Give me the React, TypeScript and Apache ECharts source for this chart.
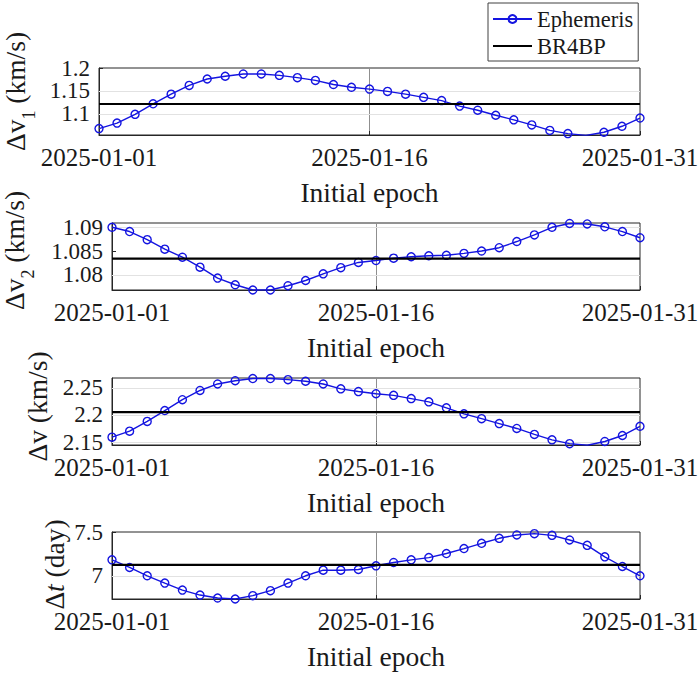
import React, { useEffect, useRef } from 'react';
import * as echarts from 'echarts';

// Initial epochs (daily, 2025-01-01 .. 2025-01-31)
const dates: string[] = Array.from({ length: 31 }, (_, i) => `2025-01-${String(i + 1).padStart(2, '0')}`);

// Ephemeris values
const dv1 = [1.068, 1.080, 1.099, 1.122, 1.143, 1.162, 1.176, 1.182, 1.187, 1.187, 1.184, 1.179, 1.173, 1.164, 1.158, 1.154,
  1.149, 1.143, 1.136, 1.129, 1.117, 1.108, 1.097, 1.087, 1.076, 1.064, 1.057, 1.053, 1.060, 1.073, 1.091];
const dv2 = [1.0900, 1.0891, 1.0874, 1.0854, 1.0837, 1.0816, 1.0793, 1.0779, 1.0768, 1.0768, 1.0777, 1.0788, 1.0802, 1.0815,
  1.0826, 1.0830, 1.0835, 1.0838, 1.0840, 1.0841, 1.0845, 1.0850, 1.0857, 1.0870, 1.0884, 1.0900, 1.0908, 1.0907, 1.0901,
  1.0891, 1.0878];
const dvTotal = [2.159, 2.170, 2.188, 2.208, 2.228, 2.245, 2.257, 2.263, 2.267, 2.267, 2.265, 2.262, 2.257, 2.248, 2.243,
  2.239, 2.236, 2.230, 2.224, 2.213, 2.202, 2.193, 2.184, 2.175, 2.164, 2.154, 2.147, 2.144, 2.151, 2.162, 2.179];
const dt = [7.182, 7.095, 7.0, 6.917, 6.837, 6.780, 6.746, 6.735, 6.773, 6.830, 6.917, 7.0, 7.064, 7.064, 7.072, 7.114,
  7.152, 7.182, 7.208, 7.254, 7.311, 7.371, 7.428, 7.466, 7.481, 7.462, 7.409, 7.348, 7.216, 7.106, 7.0];

// BR4BP constant values
const br4bp = [1.1215, 1.0834, 2.205, 7.125];

// Axis ranges and tick labels
const yMin = [1.054, 1.0768, 2.1445, 6.735];
const yMax = [1.2, 1.0909, 2.268, 7.5];
const yTicks1 = ['1.1', '1.15', '1.2'];
const yTicks2 = ['1.08', '1.085', '1.09'];
const yTicks3 = ['2.15', '2.2', '2.25'];
const yTicks4 = ['7', '7.5'];
const xTickIndices = [0, 15, 30];

const FONT = 'Liberation Serif, Times New Roman, serif';
const BLUE = '#1414e0';
const TXT = '#1a1a1a';

export default function App() {
  const ref = useRef<HTMLDivElement>(null);

  useEffect(() => {
    if (!ref.current) return;
    const chart = echarts.init(ref.current, null, { renderer: 'svg' });

    const panels = [
      { data: dv1, ticks: yTicks1, name: '{n|Δv}{s|1}{n| (km/s)}', left: 99, top: 68, gap: 67, shift: 20 },
      { data: dv2, ticks: yTicks2, name: '{n|Δv}{s|2}{n| (km/s)}', left: 112, top: 223, gap: 81, shift: 12 },
      { data: dvTotal, ticks: yTicks3, name: '{n|Δv (km/s)}', left: 112, top: 378, gap: 52, shift: 10 },
      { data: dt, ticks: yTicks4, name: '{n|Δ}{i|t}{n| (day)}', left: 112, top: 532, gap: 41, shift: 2 },
    ];
    const right = 640;
    const h = 67;

    const rich = {
      n: { fontFamily: FONT, fontSize: 27.5, lineHeight: 34, verticalAlign: 'middle', color: TXT },
      i: { fontFamily: FONT, fontSize: 27.5, fontStyle: 'italic', lineHeight: 34, verticalAlign: 'middle', color: TXT },
      s: { fontFamily: FONT, fontSize: 18, height: 6, verticalAlign: 'bottom', color: TXT },
    };

    const grid = panels.map((p) => ({
      left: p.left,
      top: p.top,
      width: right - p.left,
      height: h,
      outerBoundsMode: 'none',
      containLabel: false,
      show: true,
      borderColor: '#262626',
      borderWidth: 1,
      backgroundColor: '#fff',
    }));

    const xAxis = panels.map((p, i) => ({
      type: 'category',
      gridIndex: i,
      data: dates,
      boundaryGap: false,
      axisLine: { show: true, lineStyle: { color: '#262626', width: 1 } },
      axisTick: {
        show: true,
        inside: true,
        length: 4,
        interval: (idx: number) => xTickIndices.includes(idx),
        lineStyle: { color: '#262626' },
      },
      axisLabel: {
        interval: (idx: number) => xTickIndices.includes(idx),
        showMinLabel: true,
        showMaxLabel: true,
        hideOverlap: false,
        fontFamily: FONT,
        fontSize: 25,
        color: TXT,
        margin: 10,
      },
      splitLine: {
        show: true,
        interval: (idx: number) => idx === xTickIndices[1],
        lineStyle: { color: '#8f8f8f', width: 1 },
      },
      name: 'Initial epoch',
      nameLocation: 'middle',
      nameGap: 43,
      nameTextStyle: { fontFamily: FONT, fontSize: 27.5, color: TXT },
    }));

    const labelFormatter = (ticks: string[]) => (v: number) => {
      const hit = ticks.find((t) => Math.abs(parseFloat(t) - v) < 1e-7);
      return hit ?? String(v);
    };

    // main y axes: line, ticks, name, and every other tick label
    const yAxisMain = panels.map((p, i) => {
      const vals = p.ticks.map((t) => parseFloat(t));
      const evenVals = vals.filter((_, k) => k % 2 === 0);
      return {
        type: 'value',
        gridIndex: i,
        min: yMin[i],
        max: yMax[i],
        axisLine: { show: true, lineStyle: { color: '#262626', width: 1 } },
        axisTick: { show: true, inside: true, length: 4, customValues: vals, lineStyle: { color: '#262626' } },
        axisLabel: {
          fontFamily: FONT,
          fontSize: 23,
          color: TXT,
          margin: 9,
          showMinLabel: true,
          showMaxLabel: true,
          hideOverlap: false,
          customValues: evenVals,
          formatter: labelFormatter(p.ticks),
        },
        splitLine: { show: false },
        name: p.name,
        nameLocation: 'middle',
        nameRotate: 90,
        nameGap: p.gap,
        nameTextStyle: { fontFamily: FONT, fontSize: 27.5, color: TXT, rich, padding: [0, 0, 0, p.shift] },
      };
    });
    // companion y axes carrying the remaining (odd) tick labels, so tight labels are all kept
    const yAxisExtra = panels.map((p, i) => {
      const oddVals = p.ticks.map((t) => parseFloat(t)).filter((_, k) => k % 2 === 1);
      return {
        type: 'value',
        gridIndex: i,
        position: 'left',
        offset: 0,
        min: yMin[i],
        max: yMax[i],
        axisLine: { show: false },
        axisTick: { show: false },
        splitLine: { show: false },
        axisLabel: {
          fontFamily: FONT,
          fontSize: 23,
          color: TXT,
          margin: 9,
          showMinLabel: true,
          showMaxLabel: true,
          hideOverlap: false,
          customValues: oddVals,
          formatter: labelFormatter(p.ticks),
        },
      };
    });
    const yAxis = [...yAxisMain, ...yAxisExtra];

    const series: any[] = [];
    panels.forEach((p, i) => {
      const inner = p.ticks
        .map((t) => parseFloat(t))
        .filter((v) => v > yMin[i] + 1e-9 && v < yMax[i] - 1e-9);
      series.push({
        name: 'gridlines',
        type: 'line',
        xAxisIndex: i,
        yAxisIndex: i,
        data: [],
        z: 1,
        silent: true,
        markLine: {
          z: 1,
          silent: true,
          symbol: ['none', 'none'],
          label: { show: false },
          lineStyle: { color: '#e2e2e2', width: 1, type: 'solid' },
          emphasis: { disabled: true },
          data: inner.map((v) => ({ yAxis: v })),
        },
      });
      series.push({
        name: 'Ephemeris',
        type: 'line',
        xAxisIndex: i,
        yAxisIndex: i,
        data: p.data,
        symbol: 'circle',
        symbolSize: 8,
        showAllSymbol: true,
        lineStyle: { color: BLUE, width: 1.4 },
        itemStyle: { color: 'rgba(255,255,255,0)', borderColor: BLUE, borderWidth: 1.4 },
        z: 3,
      });
      series.push({
        name: 'BR4BP',
        type: 'line',
        xAxisIndex: i,
        yAxisIndex: i,
        data: dates.map(() => br4bp[i]),
        symbol: 'none',
        lineStyle: { color: '#000', width: 2.2 },
        itemStyle: { color: 'rgba(0,0,0,0)', borderColor: 'rgba(0,0,0,0)', borderWidth: 0 },
        z: 4,
      });
    });

    chart.setOption({
      animation: false,
      backgroundColor: '#fff',
      textStyle: { fontFamily: FONT },
      legend: {
        data: ['Ephemeris', 'BR4BP'],
        orient: 'vertical',
        left: 488,
        top: 3,
        itemWidth: 39,
        itemHeight: 10,
        itemGap: 3,
        padding: [4, 5, 3, 4],
        borderColor: '#404040',
        borderWidth: 1,
        backgroundColor: '#fff',
        textStyle: { fontFamily: FONT, fontSize: 22.5, color: TXT, lineHeight: 24 },
      },
      grid,
      xAxis,
      yAxis,
      series,
    });

    return () => chart.dispose();
  }, []);

  return (
    <div
      ref={ref}
      style={{ position: 'fixed', left: 0, top: 0, width: 700, height: 673, background: '#fff' }}
    />
  );
}
